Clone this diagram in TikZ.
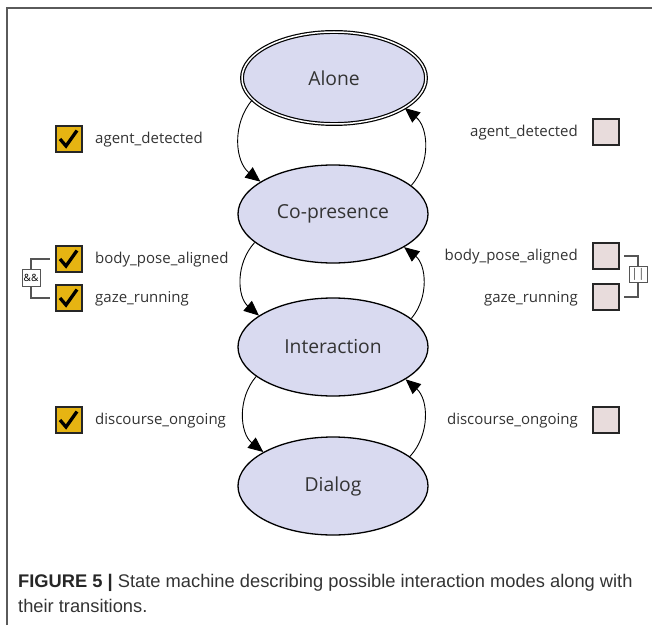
\documentclass[tikz,border=0pt]{standalone}
\usepackage{fontspec}
\setmainfont{Open Sans}
\newfontfamily\capfnt{Liberation Sans}
\usetikzlibrary{arrows.meta,shapes.geometric}

\definecolor{statefill}{HTML}{D9DAF0}
\definecolor{gold}{HTML}{E6B412}
\definecolor{offfill}{HTML}{E8DCDC}
\definecolor{ink}{HTML}{333333}
\definecolor{boxline}{HTML}{262626}
\definecolor{opgray}{HTML}{555555}
\definecolor{framegray}{HTML}{5A5A5A}

\begin{document}
\begin{tikzpicture}[x=1pt,y=1pt,
  state/.style={ellipse, draw=black, line width=1.3pt, fill=statefill,
    minimum width=190pt, minimum height=98pt, inner sep=0pt,
    font=\fontsize{19.3}{21}\selectfont, text=ink},
  initstate/.style={state, line width=1.2pt, double=white, double distance=1.5pt,
    minimum width=184pt, minimum height=92pt},
  arr/.style={-{Triangle[length=15pt,width=13pt]}, line width=0.9pt, bend right=46},
  tickbox/.style={draw=boxline, line width=1.8pt, minimum size=26pt, inner sep=0pt},
  onbox/.style={tickbox, fill=gold,
    path picture={\draw[line width=3.3pt, black, line join=miter]
      ([shift={(-9,0)}]path picture bounding box.center) -- ++(6,-7) -- ++(11,15.5);}},
  offbox/.style={tickbox, fill=offfill},
  lbl/.style={font=\fontsize{15}{17}\selectfont, text=ink, inner sep=0pt,
    text height=11pt, text depth=4pt},
  opbox/.style={draw=opgray, line width=0.8pt, fill=white, minimum width=18pt,
    minimum height=17pt, inner sep=0pt, font=\fontsize{10}{11}\selectfont},
  bracket/.style={draw=opgray, line width=1.2pt}
]
\useasboundingbox (0,0) rectangle (652,625);

% page frame
\draw[framegray, line width=1.6pt] (7,0) -- (7,617) -- (652,617);

% states
\node[initstate] (alone)  at (334,547) {Alone};
\node[state]     (copres) at (333,411) {Co-presence};
\node[state]     (inter)  at (333,278) {Interaction};
\node[state]     (dialog) at (333,139) {Dialog};

% transitions: forward on the left, backward on the right
\draw[arr] (alone.195)  to (copres.156);
\draw[arr] (copres.20)  to (alone.337);
\draw[arr] (copres.200) to (inter.157);
\draw[arr] (inter.20)   to (copres.335);
\draw[arr] (inter.201)  to (dialog.154);
\draw[arr] (dialog.21)  to (inter.336);

% conditions for the forward transitions
\node[onbox] (cbL1) at (69,486) {};
\node[onbox] (cbL2) at (69,366) {};
\node[onbox] (cbL3) at (69,327) {};
\node[onbox] (cbL4) at (69,205) {};
\node[lbl, anchor=west] (tL1) at (95,485) {agent\_detected};
\node[lbl, anchor=west] (tL2) at (95,365) {body\_pose\_aligned};
\node[lbl, anchor=west] (tL3) at (95,326) {gaze\_running};
\node[lbl, anchor=west] (tL4) at (95,204) {discourse\_ongoing};

\node[opbox] (andop) at (31,347) {\&\&};
\draw[bracket] (andop.north) |- ([xshift=-5pt]cbL2.west);
\draw[bracket] (andop.south) |- ([xshift=-5pt]cbL3.west);

% conditions for the backward transitions
\node[offbox] (cbR1) at (606,493) {};
\node[offbox] (cbR2) at (606,369) {};
\node[offbox] (cbR3) at (606,328) {};
\node[offbox] (cbR4) at (606,205) {};
\node[lbl, anchor=east] (tR1) at (578,492) {agent\_detected};
\node[lbl, anchor=east] (tR2) at (578,368) {body\_pose\_aligned};
\node[lbl, anchor=east] (tR3) at (578,326) {gaze\_running};
\node[lbl, anchor=east] (tR4) at (578,204) {discourse\_ongoing};

\node[opbox, minimum height=16pt, text=opgray, font=\fontsize{12}{13}\selectfont] (orop) at (638,351) {||};
\draw[bracket] (orop.north) |- ([xshift=4pt]cbR2.east);
\draw[bracket] (orop.south) |- ([xshift=4pt]cbR3.east);

% caption
\node[anchor=north west, align=left, inner sep=0pt, text=ink,
      font=\capfnt\fontsize{18.3}{25}\selectfont] (caption) at (18,51)
  {{\color{black!85}\textbf{FIGURE 5 |}} State machine describing possible interaction modes along with\\their transitions.};
\end{tikzpicture}
\end{document}
